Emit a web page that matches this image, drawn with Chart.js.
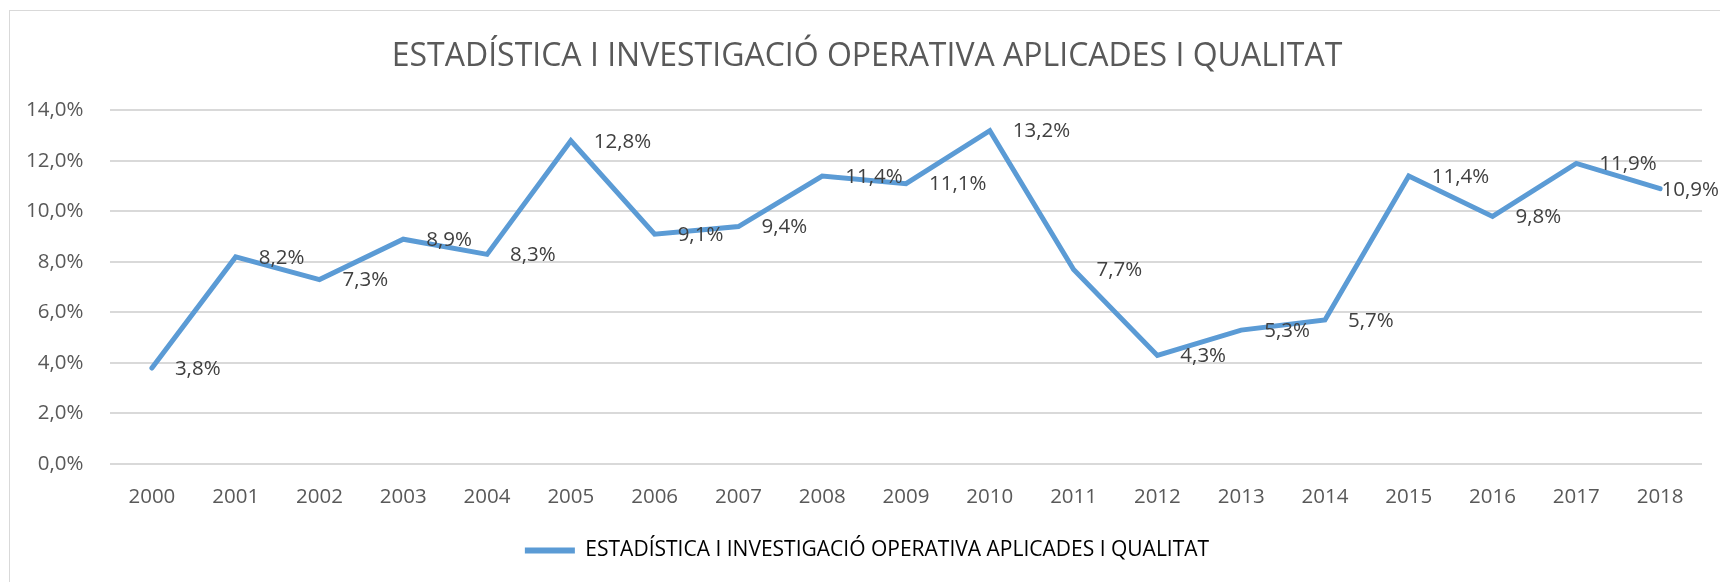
<!DOCTYPE html>
<html>
<head>
<meta charset="utf-8">
<script src="https://cdn.jsdelivr.net/npm/chart.js@4.4.1/dist/chart.umd.min.js"></script>
<style>
  body { margin: 0; background: #fff; }
  #wrap { position: relative; width: 1720px; height: 582px; overflow: hidden; }
  #frame { position: absolute; left: 9px; top: 10px; width: 2000px; height: 1000px; border: 1px solid #d9d9d9; }
  canvas { position: absolute; left: 0; top: 0; }
</style>
</head>
<body>
<div id="wrap">
  <div id="frame"></div>
  <canvas id="myChart" width="1720" height="582"></canvas>
</div>
<script>
const titulo = "ESTADÍSTICA I INVESTIGACIÓ OPERATIVA APLICADES I QUALITAT";
const anys = ["2000","2001","2002","2003","2004","2005","2006","2007","2008","2009","2010","2011","2012","2013","2014","2015","2016","2017","2018"];
const valors = [3.8, 8.2, 7.3, 8.9, 8.3, 12.8, 9.1, 9.4, 11.4, 11.1, 13.2, 7.7, 4.3, 5.3, 5.7, 11.4, 9.8, 11.9, 10.9];
const yMax = 14;
const yStep = 2;

const font = '"Open Sans", sans-serif';

function pct(v) {
    return v.toFixed(1).replace('.', ',') + '%';
}

// etiquetes de dades a la dreta de cada punt (l'ultima es desplaça perque hi capiga)
const etiquetes = {
    id: 'etiquetes',
    afterDatasetsDraw(chart) {
        const ctx = chart.ctx;
        const meta = chart.getDatasetMeta(0);
        ctx.save();
        ctx.font = '20.5px ' + font;
        ctx.fillStyle = '#404040';
        ctx.textAlign = 'left';
        ctx.textBaseline = 'middle';
        meta.data.forEach((p, i) => {
            let txt = pct(valors[i]);
            let w = ctx.measureText(txt).width;
            let x = Math.min(p.x + 23, chart.width - w - 1);
            ctx.fillText(txt, x, p.y + 1);
        });
        ctx.restore();
    }
};

const ctx = document.getElementById('myChart');
new Chart(ctx, {
    type: 'line',
    data: {
        labels: anys,
        datasets: [{
            label: titulo,
            data: valors,
            borderColor: '#5b9bd5',
            backgroundColor: '#5b9bd5',
            borderWidth: 5,
            borderCapStyle: 'round',
            pointRadius: 0,
            tension: 0
        }]
    },
    options: {
        responsive: false,
        animation: false,
        // padding esquerre gran perque el titol i la llegenda quedin una mica a la dreta, com a l'original
        layout: { padding: { left: 32, right: 18, top: 0, bottom: 11 } },
        plugins: {
            title: {
                display: true,
                text: titulo,
                color: '#595959',
                font: { family: font, size: 32, weight: 'normal' },
                padding: { top: 38, bottom: 34 }
            },
            legend: {
                position: 'bottom',
                labels: {
                    color: '#595959',
                    font: { family: font, size: 21 },
                    boxWidth: 50,
                    boxHeight: 6,
                    padding: 10,
                    generateLabels: (chart) => [{
                        text: titulo,
                        fillStyle: '#5b9bd5',
                        strokeStyle: '#5b9bd5',
                        lineWidth: 0,
                        datasetIndex: 0
                    }]
                }
            },
            tooltip: { enabled: false }
        },
        scales: {
            x: {
                offset: true,
                grid: { display: false, drawTicks: false, offset: true },
                border: { display: false },
                ticks: { color: '#595959', font: { family: font, size: 20.5 }, padding: 21, maxRotation: 0 },
                afterFit: (s) => { s.height = 66; }
            },
            y: {
                min: 0,
                max: yMax,
                grid: { color: '#d9d9d9', lineWidth: 2, drawTicks: false },
                border: { display: false },
                ticks: {
                    stepSize: yStep,
                    color: '#595959',
                    font: { family: font, size: 20.5 },
                    // mirror evita el retall de les etiquetes; el padding negatiu les torna a l'esquerra
                    mirror: true,
                    crossAlign: 'far',
                    padding: -84,
                    callback: (v) => pct(v)
                },
                afterFit: (s) => { s.width = 78; }
            }
        }
    },
    plugins: [etiquetes]
});
</script>
</body>
</html>
